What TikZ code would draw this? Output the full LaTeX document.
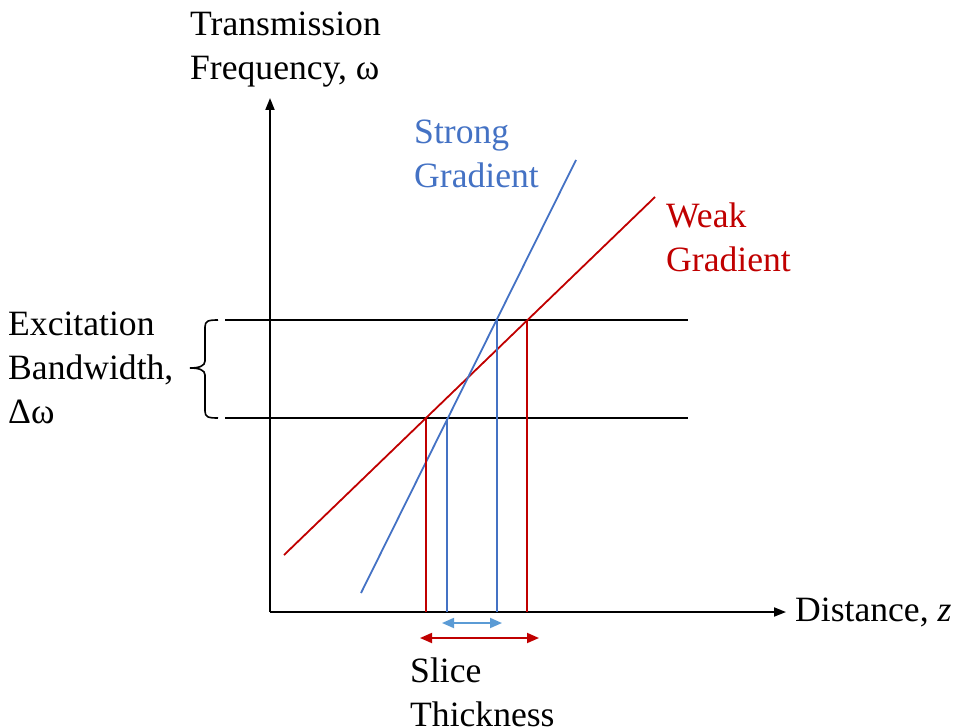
\documentclass[tikz,border=0pt]{standalone}
\usepackage{fontspec}
\setmainfont{Liberation Serif}
\usetikzlibrary{arrows.meta}
\definecolor{sblue}{HTML}{4472C4}
\definecolor{lblue}{HTML}{5B9BD5}
\definecolor{wred}{HTML}{C00000}
\begin{document}
\begin{tikzpicture}[x=1pt,y=-1pt,
  lbl/.style={inner sep=0pt,anchor=west,align=left,font=\fontsize{35.6}{44}\selectfont},
  axis/.style={line width=1.8pt,-{Triangle[length=12pt,width=9pt]}},
  ln/.style={line width=1.8pt},
  dbl/.style={line width=1.8pt,{Triangle[length=12pt,width=10pt]}-{Triangle[length=12pt,width=10pt]}}]
\useasboundingbox (0,0) rectangle (960,727);
% axes
\coordinate (o) at (270,612);
\coordinate (ytop) at (270,98);
\coordinate (xend) at (786,612);
\draw[axis] (o) -- (ytop);
\draw[axis] (o) -- (xend);
% bandwidth lines
\coordinate (h1a) at (225,320); \coordinate (h1b) at (688,320);
\coordinate (h2a) at (225,418); \coordinate (h2b) at (688,418);
\draw[ln] (h1a) -- (h1b);
\draw[ln] (h2a) -- (h2b);
% brace
\draw[line width=1.6pt] (218,320) .. controls (208,320) and (205,321) .. (205,327)
  -- (205,361) .. controls (205,366) and (199,368) .. (190,368)
  .. controls (199,368) and (205,370) .. (205,375)
  -- (205,411) .. controls (205,417) and (208,418) .. (218,418);
% gradient lines
\coordinate (ra) at (284,555); \coordinate (rb) at (655,197);
\coordinate (ba) at (361,593); \coordinate (bb) at (576,160);
\draw[ln,wred] (ra) -- (rb);
\draw[ln,sblue] (ba) -- (bb);
% verticals
\coordinate (r1t) at (426,418); \coordinate (r1b) at (426,612);
\coordinate (r2t) at (527,320); \coordinate (r2b) at (527,612);
\coordinate (b1t) at (447,418); \coordinate (b1b) at (447,612);
\coordinate (b2t) at (497,320); \coordinate (b2b) at (497,612);
\draw[ln,wred] (r1t) -- (r1b);
\draw[ln,wred] (r2t) -- (r2b);
\draw[ln,sblue] (b1t) -- (b1b);
\draw[ln,sblue] (b2t) -- (b2b);
% slice arrows
\coordinate (ba1) at (442,623); \coordinate (ba2) at (502,623);
\coordinate (ra1) at (420,638); \coordinate (ra2) at (539,638);
\draw[dbl,lblue] (ba1) -- (ba2);
\draw[dbl,wred] (ra1) -- (ra2);
% labels
\node[lbl] (ylab) at (190,50) {Transmission\\Frequency, ω};
\node[lbl] (xlab) at (795,612) {Distance, \textit{z}};
\node[lbl,text=sblue] (strong) at (414,154) {Strong\\Gradient};
\node[lbl,text=wred] (weak) at (666,237) {Weak\\Gradient};
\node[lbl] (exc) at (8,368) {Excitation\\Bandwidth,\\Δω};
\node[lbl] (slice) at (410,692) {Slice\\Thickness};
\end{tikzpicture}
\end{document}
